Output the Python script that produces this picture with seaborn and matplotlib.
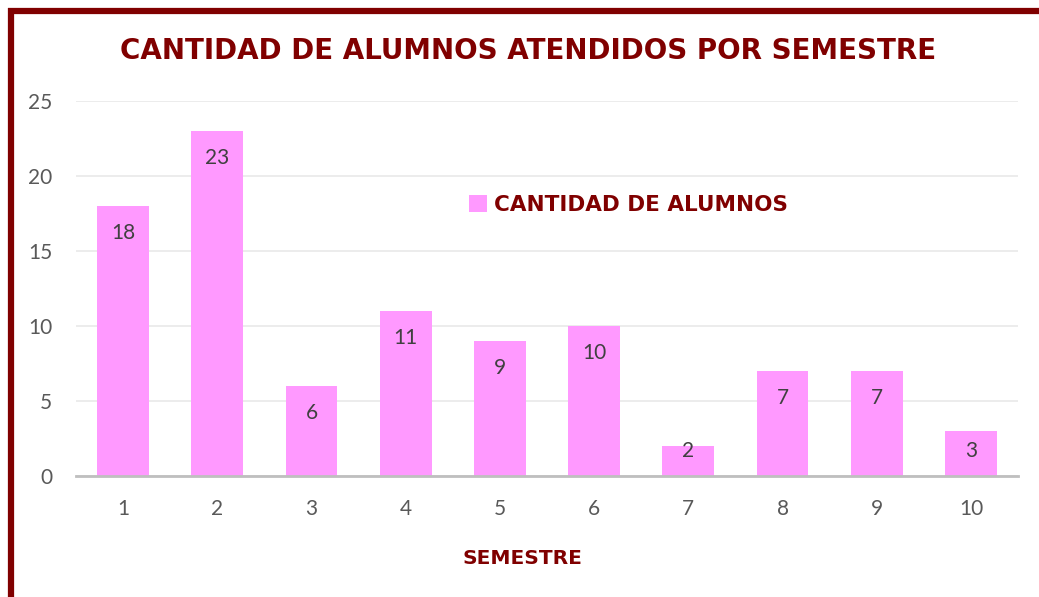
import matplotlib
matplotlib.use("Agg")
import matplotlib.pyplot as plt
from matplotlib.lines import Line2D
import seaborn as sns
import pandas as pd

semestres = ["1", "2", "3", "4", "5", "6", "7", "8", "9", "10"]
cantidad = [18, 23, 6, 11, 9, 10, 2, 7, 7, 3]
titulo = "CANTIDAD DE ALUMNOS ATENDIDOS POR SEMESTRE"
serie = "CANTIDAD DE ALUMNOS"
xlabel = "SEMESTRE"
yticks = [0, 5, 10, 15, 20, 25]

DARK_RED = "#800000"
PINK = "#FF99FF"
W, H = 1039, 597

sns.set_theme(style="white")
plt.rcParams["font.family"] = ["DejaVu Sans"]

fig = plt.figure(figsize=(W / 100, H / 100), dpi=100)
fig.patch.set_facecolor("white")

ax = fig.add_axes([76 / W, 1 - 476 / H, (1018 - 76) / W, (476 - 101) / H])
df = pd.DataFrame({"SEMESTRE": semestres, "CANTIDAD": cantidad})
sns.barplot(data=df, x="SEMESTRE", y="CANTIDAD", color=PINK, saturation=1,
            width=0.55, ax=ax, label=serie, linewidth=0)

ax.set_ylim(0, 25)
ax.set_xlim(-0.5, len(semestres) - 0.5)
ax.set_yticks(yticks)
ax.set_yticklabels([str(t) for t in yticks])
ax.grid(axis="y", color="#EBEBEB", linewidth=1.3)
ax.set_axisbelow(True)
for s in ["top", "right", "left"]:
    ax.spines[s].set_visible(False)
ax.spines["bottom"].set_color("#BFBFBF")
ax.spines["bottom"].set_linewidth(2)
ax.tick_params(axis="both", length=0, labelsize=15, labelcolor="#595959")
ax.tick_params(axis="x", pad=16.5)
ax.tick_params(axis="y", pad=17)
for lab in ax.get_xticklabels() + ax.get_yticklabels():
    lab.set_family("Lato")

ax.set_xlabel(xlabel, fontsize=14.5, fontweight="bold", color=DARK_RED)
ax.xaxis.set_label_coords((522 - 76) / (1018 - 76), -(558 - 476) / (476 - 101))
ax.xaxis.label.set_va("center")
ax.set_ylabel("")

for i, v in enumerate(cantidad):
    ax.text(i, max(v - 1.8, 1.67), str(v), ha="center", va="center",
            fontsize=15, color="#404040", family="Lato")

leg = ax.legend(loc="center left", bbox_to_anchor=(469 / W, 1 - 205 / H),
                bbox_transform=fig.transFigure, frameon=False,
                borderpad=0, borderaxespad=0,
                handlelength=0.85, handleheight=0.85, handletextpad=0.3,
                prop={"weight": "bold", "size": 15.5})
for t in leg.get_texts():
    t.set_color(DARK_RED)

fig.text(528 / W, 1 - 51 / H, titulo, ha="center", va="center",
         fontsize=20, fontweight="bold", color=DARK_RED)

# outer frame
fig.add_artist(Line2D([11 / W, 11 / W], [0, 1 - 8 / H], transform=fig.transFigure,
                      color=DARK_RED, linewidth=4.5, solid_capstyle="butt"))
fig.add_artist(Line2D([8 / W, 1], [1 - 11 / H, 1 - 11 / H], transform=fig.transFigure,
                      color=DARK_RED, linewidth=4.5, solid_capstyle="butt"))

fig.savefig("out.png", dpi=100)
